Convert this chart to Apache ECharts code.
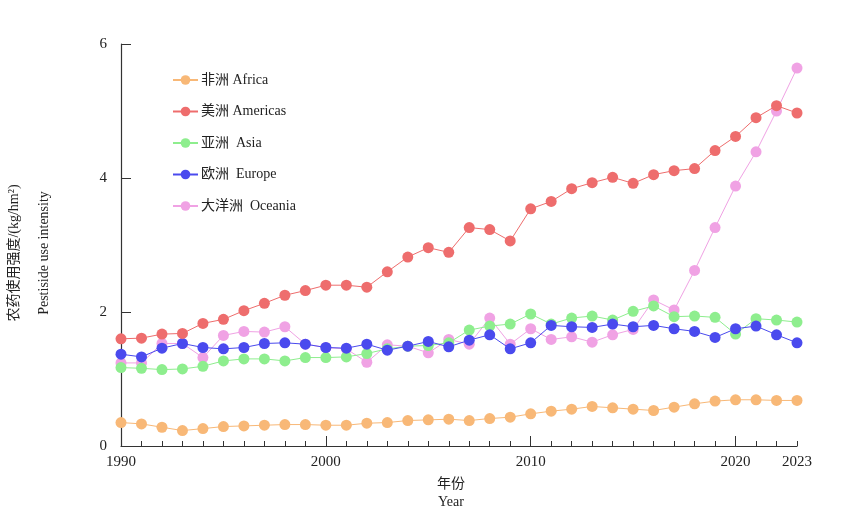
<!DOCTYPE html>
<html>
<head>
<meta charset="utf-8">
<script src="https://cdn.jsdelivr.net/npm/echarts@6/dist/echarts.min.js"></script>
<style>
  html, body { margin: 0; padding: 0; background: #fff; }
  #main { width: 858px; height: 509px; }
</style>
</head>
<body>
<div id="main"></div>
<script>
// data
const years = [];
for (let y = 1990; y <= 2023; y++) years.push(y);
const shownYears = [1990, 2000, 2010, 2020, 2023];
const majorYears = [1990, 2000, 2010, 2020];

const africa = [0.35, 0.33, 0.28, 0.23, 0.26, 0.29, 0.30, 0.31, 0.32, 0.32, 0.31, 0.31,
  0.34, 0.35, 0.38, 0.39, 0.40, 0.38, 0.41, 0.43, 0.48, 0.52,
  0.55, 0.59, 0.57, 0.55, 0.53, 0.58, 0.63, 0.67, 0.69, 0.69, 0.68, 0.68];
const americas = [1.60, 1.61, 1.67, 1.68, 1.83, 1.89, 2.02, 2.13, 2.25, 2.32, 2.40, 2.40,
  2.37, 2.60, 2.82, 2.96, 2.89, 3.26, 3.23, 3.06, 3.54, 3.65,
  3.84, 3.93, 4.01, 3.92, 4.05, 4.11, 4.14, 4.41, 4.62, 4.90, 5.08, 4.97];
const asia = [1.17, 1.16, 1.14, 1.15, 1.19, 1.27, 1.30, 1.30, 1.27, 1.32, 1.32, 1.33,
  1.38, 1.45, 1.49, 1.50, 1.54, 1.73, 1.79, 1.82, 1.97, 1.82,
  1.91, 1.94, 1.88, 2.01, 2.09, 1.93, 1.94, 1.92, 1.67, 1.90, 1.88, 1.85];
const europe = [1.37, 1.33, 1.46, 1.53, 1.47, 1.45, 1.47, 1.53, 1.54, 1.52, 1.47, 1.46,
  1.52, 1.43, 1.49, 1.56, 1.48, 1.58, 1.66, 1.45, 1.54, 1.80,
  1.78, 1.77, 1.82, 1.78, 1.80, 1.75, 1.71, 1.62, 1.75, 1.79, 1.66, 1.54];
const oceania = [1.24, 1.24, 1.53, 1.53, 1.32, 1.65, 1.71, 1.70, 1.78, 1.52, 1.47, 1.45,
  1.25, 1.51, 1.49, 1.39, 1.59, 1.52, 1.91, 1.52, 1.75, 1.59,
  1.63, 1.55, 1.66, 1.74, 2.18, 2.03, 2.62, 3.26, 3.88, 4.39, 5.00, 5.64];

const names = ['非洲 Africa', '美洲 Americas', '亚洲  Asia', '欧洲  Europe', '大洋洲  Oceania'];
const colors = ['#f8b877', '#ee6d6d', '#8eee8e', '#4a4aee', '#f0a2e4'];
const values = [africa, americas, asia, europe, oceania];
const zs = [3, 6, 4, 5, 2];

const font = '"Liberation Serif", "Noto Sans CJK SC", serif';
const axisColor = '#333';

const chart = echarts.init(document.getElementById('main'));

const series = values.map((arr, i) => ({
  name: names[i],
  type: 'line',
  z: zs[i],
  data: arr.map((v, k) => [years[k], v]),
  symbol: 'circle',
  symbolSize: 11,
  itemStyle: { color: colors[i] },
  lineStyle: { color: colors[i], width: 1 },
  emphasis: { disabled: true }
}));

const option = {
  animation: false,
  backgroundColor: '#fff',
  textStyle: { fontFamily: font },
  legend: {
    data: names,
    orient: 'vertical',
    left: 167,
    top: 68,
    itemWidth: 25,
    itemHeight: 12,
    itemGap: 17.5,
    textStyle: { fontFamily: font, fontSize: 14, color: '#222', padding: [0, 0, 0, -2] }
  },
  grid: { left: 121, right: 61, top: 44, bottom: 63, outerBoundsMode: 'none', containLabel: false },
  xAxis: [
    {
      type: 'value',
      min: 1990,
      max: 2023,
      interval: 1,
      axisLine: { lineStyle: { color: axisColor, width: 1.2 } },
      axisTick: { inside: true, length: 5, lineStyle: { color: axisColor } },
      splitLine: { show: false },
      axisLabel: {
        color: '#222',
        fontSize: 15,
        fontFamily: font,
        margin: 9,
        formatter: v => {
          if (v === 2023) return '{e|2023}';
          return shownYears.indexOf(v) >= 0 ? String(v) : '';
        },
        rich: { e: { fontSize: 15, fontFamily: font, color: '#222', padding: [0, 0, 8, 0] } }
      },
      name: '年份\nYear',
      nameLocation: 'middle',
      nameGap: 28,
      nameTextStyle: { fontFamily: font, fontSize: 14, color: '#222', lineHeight: 18, padding: [0, 16, 0, 0] }
    },
    {
      type: 'value',
      min: 1990,
      max: 2023,
      position: 'bottom',
      gridIndex: 0,
      axisLine: { show: false },
      axisTick: { inside: true, length: 10, customValues: majorYears, lineStyle: { color: axisColor } },
      axisLabel: { show: false },
      splitLine: { show: false }
    }
  ],
  yAxis: {
    type: 'value',
    min: 0,
    max: 6,
    interval: 2,
    axisLine: { show: true, lineStyle: { color: axisColor, width: 1.2 } },
    axisTick: { show: true, inside: true, length: 10, lineStyle: { color: axisColor } },
    splitLine: { show: false },
    axisLabel: { color: '#222', fontSize: 15, fontFamily: font, margin: 14 },
    name: '农药使用强度/(kg/hm²)\nPestiside use intensity',
    nameLocation: 'middle',
    nameRotate: 90,
    nameGap: 62,
    nameTextStyle: { fontFamily: font, fontSize: 14, color: '#222', lineHeight: 30, padding: [0, 16, 0, 0] }
  },
  series: series
};

chart.setOption(option);
</script>
</body>
</html>
